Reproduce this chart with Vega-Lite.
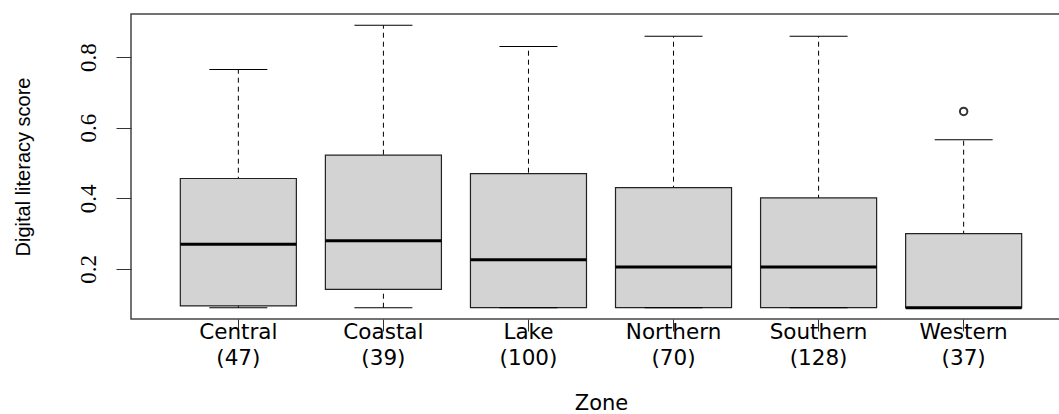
{
  "$schema": "https://vega.github.io/schema/vega-lite/v6.json",
  "width": 940,
  "height": 305,
  "autosize": {"type": "none"},
  "padding": {"left": 131, "top": 14, "right": -12, "bottom": 95},
  "background": "white",
  "config": {
    "font": "Liberation Sans",
    "view": {"stroke": "#444444", "strokeWidth": 1.5}
  },
  "datasets": {
    "boxes": [
      {"label": "Central (47)", "zone": "Central", "n": 47, "lower": 0.09, "q1": 0.095, "median": 0.27, "q3": 0.456, "upper": 0.765},
      {"label": "Coastal (39)", "zone": "Coastal", "n": 39, "lower": 0.09, "q1": 0.142, "median": 0.28, "q3": 0.522, "upper": 0.89},
      {"label": "Lake (100)", "zone": "Lake", "n": 100, "lower": 0.09, "q1": 0.09, "median": 0.226, "q3": 0.47, "upper": 0.83},
      {"label": "Northern (70)", "zone": "Northern", "n": 70, "lower": 0.09, "q1": 0.09, "median": 0.205, "q3": 0.43, "upper": 0.859},
      {"label": "Southern (128)", "zone": "Southern", "n": 128, "lower": 0.09, "q1": 0.09, "median": 0.205, "q3": 0.401, "upper": 0.859},
      {"label": "Western (37)", "zone": "Western", "n": 37, "lower": 0.09, "q1": 0.09, "median": 0.09, "q3": 0.3, "upper": 0.566}
    ],
    "outliers": [
      {"label": "Western (37)", "zone": "Western", "score": 0.646}
    ]
  },
  "encoding": {
    "x": {
      "field": "label",
      "type": "nominal",
      "sort": null,
      "scale": {"paddingInner": 0, "paddingOuter": 0.24},
      "axis": {
        "labelExpr": "split(datum.value, ' ')",
        "labelAngle": 0,
        "labelAlign": "center",
        "labelBaseline": "top",
        "labelPadding": -9.5,
        "labelLineHeight": 26,
        "labelFont": "DejaVu Sans",
        "labelFontSize": 21.5,
        "labelColor": "black",
        "labelOverlap": false,
        "tickSize": 12,
        "tickColor": "#333333",
        "tickWidth": 1,
        "domain": false,
        "grid": false,
        "title": "Zone",
        "titleFont": "DejaVu Sans",
        "titleFontSize": 21,
        "titleFontWeight": "normal",
        "titleColor": "black",
        "titleBaseline": "alphabetic",
        "titleY": 90
      }
    }
  },
  "layer": [
    {
      "data": {"name": "boxes"},
      "mark": {"type": "rule", "color": "black", "strokeWidth": 1, "strokeDash": [5, 4]},
      "encoding": {
        "y": {
          "field": "lower",
          "type": "quantitative",
          "scale": {"domain": [0.058, 0.922], "nice": false, "zero": false},
          "axis": {
            "values": [0.2, 0.4, 0.6, 0.8],
            "format": ".1f",
            "tickSize": 15,
            "tickColor": "#333333",
            "labelAngle": -90,
            "labelAlign": "center",
            "labelBaseline": "alphabetic",
            "labelPadding": 21,
            "labelFont": "Liberation Sans Narrow",
            "labelFontSize": 23,
            "labelColor": "black",
            "domain": false,
            "grid": false,
            "title": "Digital literacy score",
            "titleFont": "Liberation Sans",
            "titleFontSize": 20,
            "titleFontWeight": "normal",
            "titleColor": "black",
            "titleAngle": -90,
            "titleBaseline": "alphabetic",
            "titleX": -102
          }
        },
        "y2": {"field": "upper"}
      }
    },
    {
      "data": {"name": "boxes"},
      "mark": {"type": "bar", "width": {"band": 0.8}, "fill": "#d3d3d3", "stroke": "#222222", "strokeWidth": 1.2},
      "encoding": {
        "y": {"field": "q1", "type": "quantitative"},
        "y2": {"field": "q3"}
      }
    },
    {
      "data": {"name": "boxes"},
      "mark": {"type": "tick", "color": "black", "opacity": 1, "size": 58, "thickness": 1},
      "encoding": {
        "y": {"field": "upper", "type": "quantitative"}
      }
    },
    {
      "data": {"name": "boxes"},
      "mark": {"type": "tick", "color": "black", "opacity": 1, "size": 58, "thickness": 1},
      "encoding": {
        "y": {"field": "lower", "type": "quantitative"}
      }
    },
    {
      "data": {"name": "boxes"},
      "mark": {"type": "tick", "color": "black", "opacity": 1, "size": 116, "thickness": 3},
      "encoding": {
        "y": {"field": "median", "type": "quantitative"}
      }
    },
    {
      "data": {"name": "outliers"},
      "mark": {"type": "point", "shape": "circle", "filled": false, "color": "#333333", "size": 55, "strokeWidth": 2, "opacity": 1},
      "encoding": {
        "y": {"field": "score", "type": "quantitative"}
      }
    }
  ]
}
